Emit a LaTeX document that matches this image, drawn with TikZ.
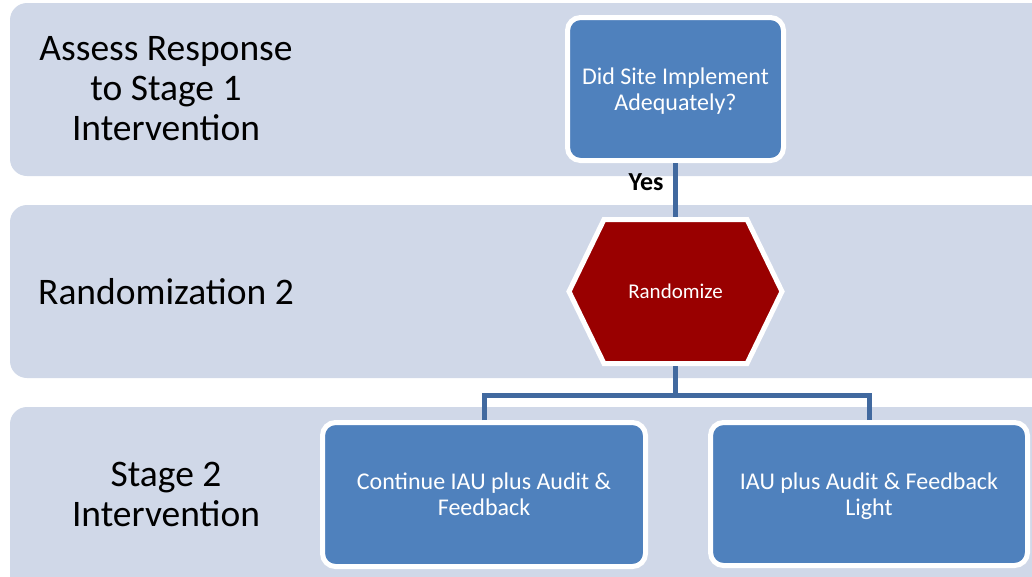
\documentclass[tikz,border=0pt]{standalone}
\usepackage{fontspec}
\setmainfont{Carlito}
\definecolor{bandfill}{HTML}{D0D8E8}
\definecolor{boxblue}{HTML}{4F81BD}
\definecolor{linkblue}{HTML}{41699F}
\definecolor{randred}{HTML}{990000}
\begin{document}
\begin{tikzpicture}[x=1pt,y=-1pt,
  band/.style={fill=bandfill, rounded corners=17pt},
  stagelabel/.style={font=\fontsize{37.5}{40}\selectfont, align=center, text=black},
  stepbox/.style={draw=white, line width=5pt, fill=boxblue, rounded corners=13pt,
    text=white, align=center, inner sep=0pt, font=\fontsize{24}{26}\selectfont},
  link/.style={draw=linkblue, line width=5pt},
]
\useasboundingbox (0,0) rectangle (1032,576);
\clip (0,0) rectangle (1032,576);

% phase bands
\path[band] (10,3) rectangle (1070,176);
\path[band] (10,205) rectangle (1070,378);
\path[band] (10,407) rectangle (1070,620);

% phase labels
\node[stagelabel] (lab1) at (166,89) {Assess Response\\to Stage 1\\Intervention};
\node[stagelabel] (lab2) at (166,292) {Randomization 2};
\node[stagelabel] (lab3) at (166,494) {Stage 2\\Intervention};

% decision box (last lines smashed so descenders do not shift the text block)
\node[stepbox, minimum width=216pt, minimum height=143pt] (check) at (675.5,89)
  {Did Site Implement\\\smash{Adequately?}};

% randomization hexagon
\draw[white, line width=5pt, fill=randred]
  (569,291.5) -- (604,219.5) -- (747,219.5) -- (782,291.5)
  -- (747,363.5) -- (604,363.5) -- cycle;
\node[minimum width=221pt, minimum height=149pt, outer sep=0pt, inner sep=0pt,
  text=white, font=\fontsize{21}{24}\selectfont] (rand) at (675.5,291.5) {Randomize};

% stage 2 arms
\node[stepbox, minimum width=323pt, minimum height=144pt] (armA) at (484,494.5)
  {Continue IAU plus Audit \&\\Feedback};
\node[stepbox, minimum width=317pt, minimum height=143pt] (armB) at (869,494)
  {IAU plus Audit \& Feedback\\\smash{Light}};

% connectors
\draw[link] (check.south) -- (rand.north);
\node[font=\bfseries\fontsize{26}{28}\selectfont, text=black] (yes) at (646,182) {Yes};
\coordinate (split) at (675.5,395);
\draw[link] (rand.south) -- (split);
\draw[link] (armA.north) |- (split) -| (armB.north);
\end{tikzpicture}
\end{document}
